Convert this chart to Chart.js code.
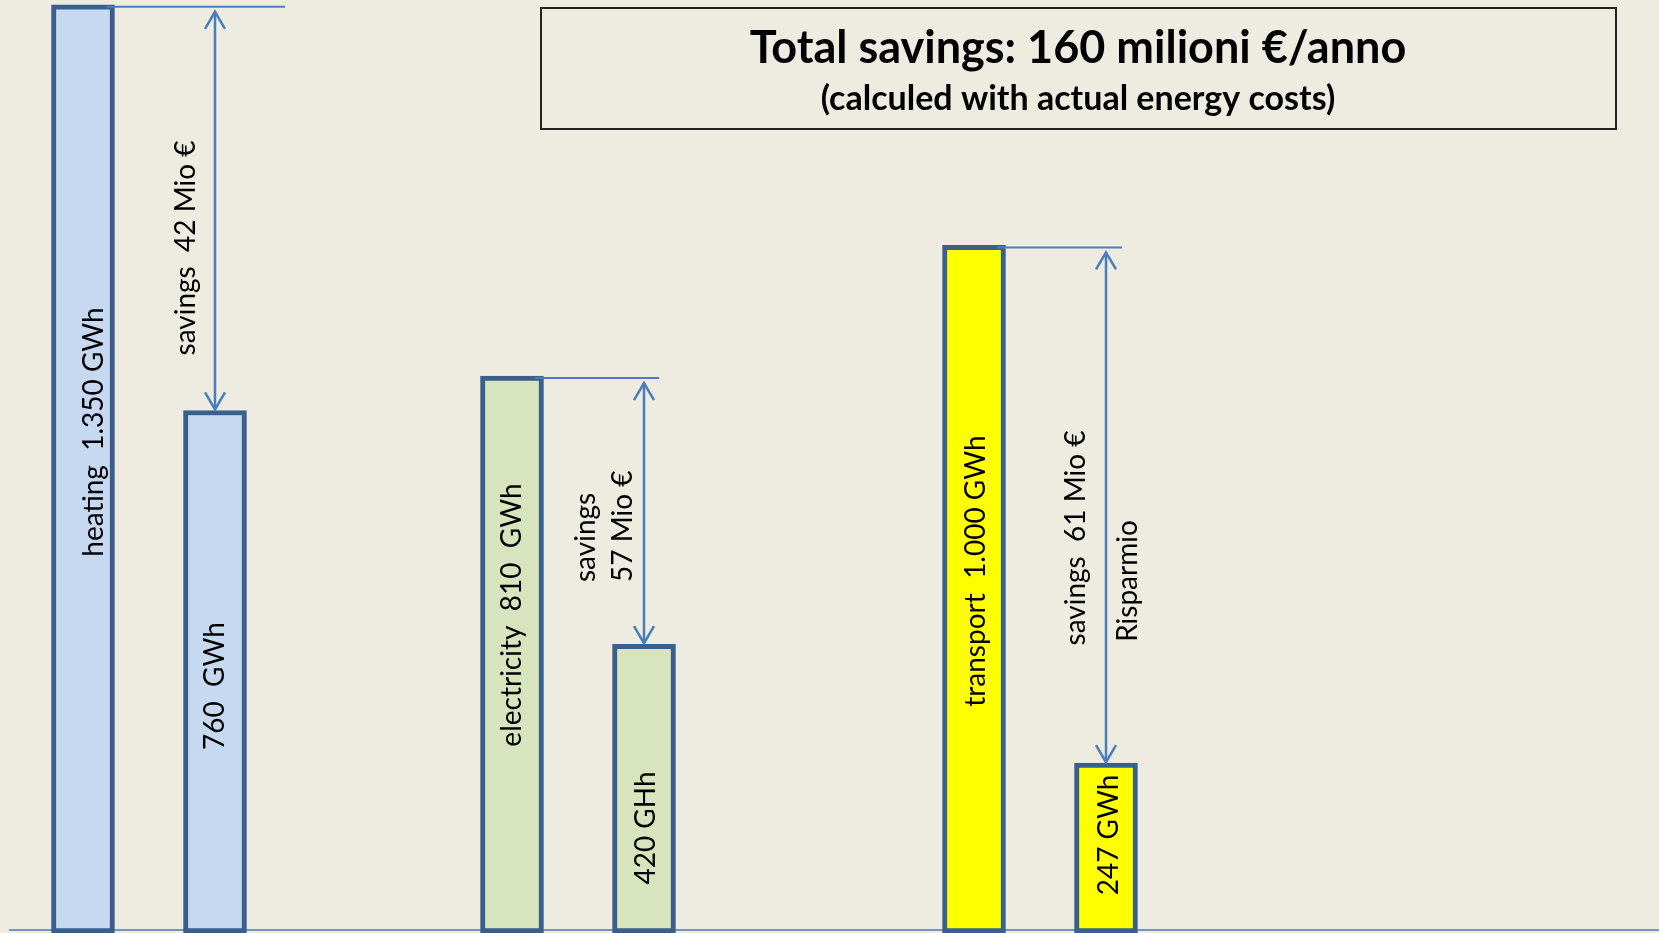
<!DOCTYPE html>
<html>
<head>
<meta charset="utf-8">
<script src="https://cdn.jsdelivr.net/npm/chart.js@4/dist/chart.umd.min.js"></script>
<style>
  html, body { margin: 0; padding: 0; background: #eeece1; overflow: hidden; }
  canvas { display: block; }
</style>
</head>
<body>
<canvas id="savingsChart" width="1659" height="933"></canvas>
<script>
// yearly energy use per sector, GWh: today and after the measures
const sectors = ["heating", "electricity", "transport"];
const before = [1350, 810, 1000];
const after = [760, 420, 247];
const beforeText = ["heating  1.350 GWh", "electricity  810  GWh", "transport  1.000 GWh"];
const afterText = ["760  GWh", "420 GHh", "247 GWh"];
const savingsText = [["savings  42 Mio €"], ["savings", "57 Mio €"], ["savings  61 Mio €"]];
const titleText = "Total savings: 160 milioni €/anno";
const subtitleText = "(calculed with actual energy costs)";

const fills = ["#c6d9f1", "#d7e4bd", "#ffff00"];
const outline = "#3a5f8b";
const arrowBlue = "#4a7ebb";
const FONT = "Lato, 'Open Sans', sans-serif";

// category slots used by each before/after pair (the rest stay empty)
const slotPairs = [[0, 4], [13, 17], [27, 31]];
const nSlots = 32;

const labels = new Array(nSlots).fill("");
const values = new Array(nSlots).fill(null);
const colors = new Array(nSlots).fill("transparent");
sectors.forEach((s, i) => {
  const [a, b] = slotPairs[i];
  labels[a] = s;
  labels[b] = s + " after";
  values[a] = before[i];
  values[b] = after[i];
  colors[a] = colors[b] = fills[i];
});

// where the hand-placed texts sit around each pair
const notePlace = [
  { inBefore: { dx: 20, cy: 432 }, inAfter: { dx: 9, cy: 686 }, save: { dx: [-20], cy: 248, align: "center" }, lineExt: 70 },
  { inBefore: { dx: 9, cy: 615 }, inAfter: { dx: 11, cy: 828 }, save: { dx: [-49, -12], cy: 582, align: "left" }, lineExt: 15 },
  { inBefore: { dx: 11, cy: 571 }, inAfter: { dx: 12, cy: 835 }, save: { dx: [-21], cy: 538, align: "center" }, lineExt: 16 }
];

function vText(ctx, text, x, y, align) {
  ctx.save();
  ctx.translate(x, y);
  ctx.rotate(-Math.PI / 2);
  ctx.textAlign = align || "center";
  ctx.textBaseline = "alphabetic";
  ctx.fillText(text, 0, 0);
  ctx.restore();
}

function arrowHead(ctx, x, y, dir) {
  ctx.beginPath();
  ctx.moveTo(x - 10, y + dir * 17);
  ctx.lineTo(x, y);
  ctx.lineTo(x + 10, y + dir * 17);
  ctx.stroke();
}

const baseLine = {
  id: "baseLine",
  beforeDatasetsDraw(chart) {
    const ctx = chart.ctx;
    ctx.save();
    ctx.strokeStyle = "#6f95c8";
    ctx.lineWidth = 2;
    ctx.beginPath();
    ctx.moveTo(9, chart.chartArea.bottom - 3);
    ctx.lineTo(chart.width, chart.chartArea.bottom - 3);
    ctx.stroke();
    ctx.restore();
  }
};

const annotations = {
  id: "annotations",
  afterDatasetsDraw(chart) {
    const ctx = chart.ctx;
    const bars = chart.getDatasetMeta(0).data;
    ctx.save();

    slotPairs.forEach(([a, b], i) => {
      const p = notePlace[i];
      const hi = bars[a], lo = bars[b];

      // level line from the taller bar and the double arrow down to the shorter one
      ctx.strokeStyle = arrowBlue;
      ctx.lineWidth = 2;
      ctx.beginPath();
      ctx.moveTo(hi.x + hi.width / 2 - 8, hi.y + 2);
      ctx.lineTo(lo.x + p.lineExt, hi.y + 2);
      ctx.stroke();

      const top = hi.y + 7, bottom = lo.y - 1;
      ctx.lineWidth = 2.5;
      ctx.beginPath();
      ctx.moveTo(lo.x, top);
      ctx.lineTo(lo.x, bottom);
      ctx.stroke();
      arrowHead(ctx, lo.x, top, 1);
      arrowHead(ctx, lo.x, bottom, -1);

      ctx.fillStyle = "#000";
      ctx.font = "28px " + FONT;
      vText(ctx, beforeText[i], hi.x + p.inBefore.dx, p.inBefore.cy);
      vText(ctx, afterText[i], lo.x + p.inAfter.dx, p.inAfter.cy);
      savingsText[i].forEach((t, k) => {
        vText(ctx, t, lo.x + p.save.dx[k], p.save.cy, p.save.align);
      });
    });

    // second caption next to the last arrow
    vText(ctx, "Risparmio", bars[slotPairs[2][1]].x + 31, 581);

    // boxed total
    ctx.strokeStyle = "#222";
    ctx.lineWidth = 2;
    ctx.strokeRect(541, 8, 1075, 121);
    ctx.textAlign = "center";
    ctx.textBaseline = "alphabetic";
    ctx.font = "bold 45px " + FONT;
    ctx.fillText(titleText, 1078, 63);
    ctx.font = "bold 34px " + FONT;
    ctx.fillText(subtitleText, 1078, 110);

    ctx.restore();
  }
};

new Chart(document.getElementById("savingsChart"), {
  type: "bar",
  data: {
    labels: labels,
    datasets: [{
      data: values,
      backgroundColor: colors,
      borderColor: outline,
      borderWidth: 5,
      borderSkipped: false,
      barThickness: 63,
      clip: false
    }]
  },
  options: {
    responsive: false,
    animation: false,
    layout: { padding: { left: 66.5, right: 536.5, top: 0, bottom: 0 } },
    plugins: { legend: { display: false }, tooltip: { enabled: false } },
    scales: {
      x: { display: false },
      y: { display: false, min: 0, max: 1357 }
    }
  },
  plugins: [baseLine, annotations]
});
</script>
</body>
</html>
